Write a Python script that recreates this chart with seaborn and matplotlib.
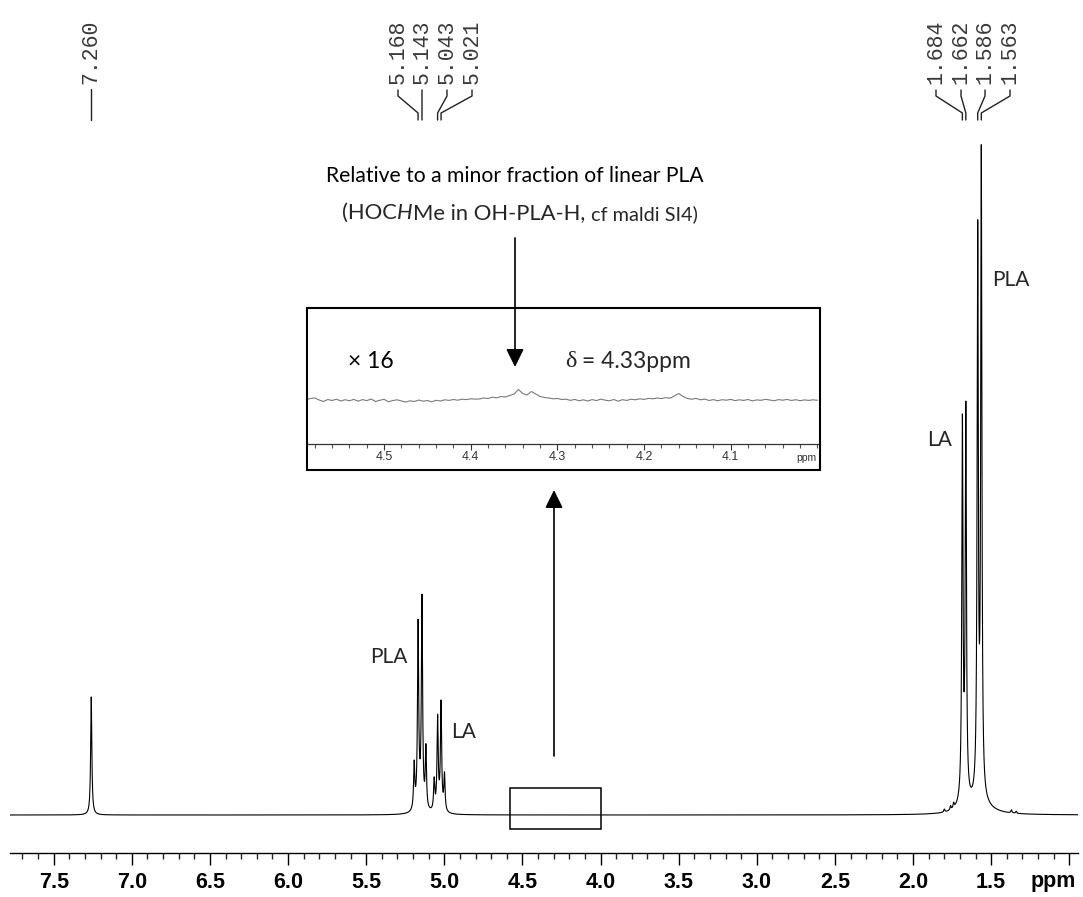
import numpy as np
import pandas as pd
import matplotlib
matplotlib.use("Agg")
import matplotlib.pyplot as plt
import seaborn as sns
from matplotlib.patches import Rectangle
from matplotlib import font_manager

# ---------------- data ----------------
# main 1H NMR spectrum: peak list (ppm, height in arbitrary units, half width at half max in ppm)
peak_ppm = [7.260, 5.193, 5.168, 5.143, 5.118, 5.065, 5.043, 5.021, 4.999,
            1.684, 1.662, 1.586, 1.563, 1.800, 1.760, 1.740, 1.370, 1.340]
peak_height = [118, 45, 180, 205, 60, 30, 90, 105, 36,
               373, 384, 559, 638, 3, 4, 5, 3, 2]
peak_hwhm = [0.0045, 0.0045, 0.0045, 0.0045, 0.0045, 0.0045, 0.0045, 0.0045, 0.0045,
             0.0045, 0.0045, 0.0045, 0.0045, 0.004, 0.004, 0.004, 0.004, 0.004]
# broad underlying components
broad_ppm = [5.155, 5.032, 1.575, 1.673]
broad_height = [10, 5, 10, 8]
broad_hwhm = [0.02, 0.02, 0.08, 0.03]

# chemical-shift labels at the top
shift_labels = ["7.260", "5.168", "5.143", "5.043", "5.021", "1.684", "1.662", "1.586", "1.563"]
shift_values = [7.260, 5.168, 5.143, 5.043, 5.021, 1.684, 1.662, 1.586, 1.563]

# main axis ticks
major_ticks = [7.5, 7.0, 6.5, 6.0, 5.5, 5.0, 4.5, 4.0, 3.5, 3.0, 2.5, 2.0, 1.5, 1.0]
major_labels = ["7.5", "7.0", "6.5", "6.0", "5.5", "5.0", "4.5", "4.0", "3.5",
                "3.0", "2.5", "2.0", "1.5", ""]

# x16 expansion (4.59 - 4.00 ppm), one value every 0.005 ppm
inset_start, inset_stop = 4.590, 4.000
inset_signal = [
    0.5, 1.5, 2.0, 0.0, -1.5, 0.5, -0.5, 0.8, -1.0, 0.3,
    -0.8, 0.6, -1.2, 0.4, -0.6, 1.0, -1.5, -0.3, 0.7, -1.8,
    -0.5, 0.2, -1.0, -2.0, -0.8, -1.5, 0.0, -1.2, -0.5, -1.8,
    -0.3, -1.0, 0.2, -0.4, 0.5, -0.2, 0.8, 0.4, 1.2, 0.9,
    1.0, 2.0, 1.5, 2.8, 2.2, 3.5, 3.0, 4.5, 6.0, 10.5,
    6.5, 5.0, 8.5, 6.0, 3.5, 2.5, 2.0, 1.2, 1.5, 0.5,
    0.8, -0.4, 0.6, -0.8, 0.2, -1.0, 0.4, -0.6, 0.9, -0.2,
    -0.8, 0.5, -1.2, 0.3, -0.4, 0.8, 0.2, 1.2, 0.6, 1.6,
    1.2, 2.0, 1.4, 2.4, 1.8, 4.0, 6.5, 3.5, 1.5, 0.8,
    1.6, 0.2, 0.9, -0.5, 0.4, -0.8, 0.3, -0.2, 0.6, -0.6,
    0.2, -0.4, 0.5, -0.9, 0.1, -0.3, 0.7, 0.0, -0.8, 0.4,
    -0.2, 0.6, -0.5, 0.3, -0.7, 0.1, -0.4, 0.2, -0.3,
]
inset_ticks = [4.5, 4.4, 4.3, 4.2, 4.1]
inset_tick_labels = ["4.5", "4.4", "4.3", "4.2", "4.1"]

# ---------------- build curves from the peak list ----------------
grid = np.linspace(7.78, 0.944, 60000)
spec = np.zeros_like(grid)
for c, h, g in zip(peak_ppm + broad_ppm, peak_height + broad_height, peak_hwhm + broad_hwhm):
    spec += h / (1.0 + ((grid - c) / g) ** 2)
main_df = pd.DataFrame({"ppm": grid, "intensity": spec})

inset_df = pd.DataFrame({"ppm": np.linspace(inset_start, inset_stop, len(inset_signal)),
                         "intensity": inset_signal})

# ---------------- style ----------------
sns.set_theme(style="white")
plt.rcParams["font.family"] = ["Lato", "DejaVu Sans"]
names = {f.name for f in font_manager.fontManager.ttflist}
if "Liberation Sans Narrow" in names:
    tick_family, tick_size, small_size = "Liberation Sans Narrow", 18, 10
else:
    tick_family, tick_size, small_size = "Liberation Sans", 15.5, 9

W, H = 1083, 897
fig = plt.figure(figsize=(W / 100, H / 100), dpi=100)
fig.patch.set_facecolor("white")

# ---------------- main spectrum ----------------
ax = fig.add_axes([10 / W, (H - 853) / H, 1068 / W, 753 / H])
ax.set_facecolor("none")
sns.lineplot(data=main_df, x="ppm", y="intensity", ax=ax, color="black",
             lw=0.8, estimator=None, sort=False)
ax.set_xlim(7.78, 0.944)
ax.set_ylim(-38, 715)
for s in ["top", "left", "right"]:
    ax.spines[s].set_visible(False)
ax.spines["bottom"].set_linewidth(1.0)
ax.spines["bottom"].set_color("black")
ax.set_xticks(major_ticks)
ax.set_xticklabels(major_labels, fontfamily=tick_family, fontweight="bold", fontsize=tick_size)
ax.set_xticks(np.round(np.arange(7.7, 0.95, -0.1), 1), minor=True)
ax.tick_params(axis="x", which="major", direction="out", length=8.6, width=1.0,
               pad=5, bottom=True, colors="black")
ax.tick_params(axis="x", which="minor", direction="out", length=4.3, width=1.0, bottom=True)
ax.set_yticks([])
ax.set_xlabel("")
ax.set_ylabel("")
# small box marking the expanded region
ax.add_patch(Rectangle((inset_stop, -14), inset_start - inset_stop - 0.01, 41,
                       fill=False, lw=1.1, edgecolor="black"))

# ---------------- inset (x16) ----------------
ax_in = fig.add_axes([307 / W, (H - 444) / H, 513 / W, 136 / H])
ax_in.set_facecolor("none")
sns.lineplot(data=inset_df, x="ppm", y="intensity", ax=ax_in, color="#7a7a7a",
             lw=0.8, estimator=None, sort=False)
ax_in.set_xlim(4.589, 3.997)
ax_in.set_ylim(-44, 92)
for s in ["top", "left", "right"]:
    ax_in.spines[s].set_visible(False)
ax_in.spines["bottom"].set_color("#333333")
ax_in.spines["bottom"].set_linewidth(0.9)
ax_in.set_xticks(inset_ticks)
ax_in.set_xticklabels(inset_tick_labels, fontfamily=tick_family, fontsize=small_size, color="#333333")
ax_in.set_xticks(np.round(np.arange(4.58, 4.0, -0.02), 2), minor=True)
ax_in.tick_params(axis="x", which="major", direction="out", length=4.0, width=0.8,
                  pad=1.0, bottom=True, colors="#333333")
ax_in.tick_params(axis="x", which="minor", direction="out", length=2.8, width=0.8,
                  bottom=True, colors="#555555")
ax_in.set_yticks([])
ax_in.set_xlabel("")
ax_in.set_ylabel("")

# ---------------- overlay in pixel coordinates (y downwards) ----------------
ov = fig.add_axes([0, 0, 1, 1])
ov.set_facecolor("none")
ov.set_xlim(0, W)
ov.set_ylim(H, 0)
ov.axis("off")

ov.add_patch(Rectangle((307, 308), 513, 162, fill=False, lw=1.5, edgecolor="black"))
ov.text(806, 458, "ppm", ha="center", va="center", fontfamily=tick_family,
        fontsize=small_size - 1.5, color="#333333")
ov.text(1053, 881, "ppm", ha="center", va="center", fontfamily=tick_family,
        fontweight="bold", fontsize=tick_size, color="black")

# chemical shift labels with connectors
text_x = [91, 398, 422, 447, 472, 936, 961, 985, 1010]
fig.canvas.draw()
for lab, val, tx in zip(shift_labels, shift_values, text_x):
    px = ax.transData.transform((val, 0))[0]
    ov.text(tx, 84, lab, rotation=90, ha="center", va="bottom",
            fontfamily="Liberation Mono", fontsize=15.5, color="#3a3a3a")
    if lab == "7.260":
        ov.plot([px, px], [89, 120], color="#222222", lw=1.0)
    else:
        ov.plot([tx, tx, px, px], [90, 96, 113, 120], color="#222222", lw=1.0)

# annotation text
ov.text(515, 176, "Relative to a minor fraction of linear PLA", ha="center", va="center",
        fontsize=15.2, color="black")


def chain(x, y, parts):
    first = ov.text(x, y, parts[0][0], ha="left", va="baseline", **parts[0][1])
    prev = first
    for s, kw in parts[1:]:
        prev = ov.annotate(s, xy=(1, 0), xycoords=prev, ha="left", va="bottom", **kw)
    return first, prev


line2_first, line2_last = chain(0, 219, [
    ("(HOC", dict(fontsize=15.8)),
    ("H", dict(fontsize=15.8, fontstyle="italic")),
    ("Me in OH-PLA-H, ", dict(fontsize=15.8)),
    ("cf maldi SI4)", dict(fontsize=14.3)),
])
fig.canvas.draw()
r = fig.canvas.get_renderer()
x0 = line2_first.get_window_extent(r).x0
x1 = line2_last.get_window_extent(r).x1
line2_first.set_x(520 - (x1 - x0) / 2)

ov.text(348, 361, "\u00d7 16", ha="left", va="center", fontsize=16.5, color="black")
chain(565, 367, [("\u03b4", dict(fontsize=17.5, fontfamily="Liberation Serif")),
                 (" = 4.33ppm", dict(fontsize=16.5))])

# peak assignments
ov.text(389, 657, "PLA", ha="center", va="center", fontsize=15)
ov.text(464, 732, "LA", ha="center", va="center", fontsize=15)
ov.text(1011, 280, "PLA", ha="center", va="center", fontsize=15)
ov.text(940, 440, "LA", ha="center", va="center", fontsize=15)

# arrows
arrow_kw = dict(arrowstyle="-|>,head_length=0.55,head_width=0.27", mutation_scale=20,
                lw=1.2, color="black", shrinkA=0, shrinkB=0)
ov.annotate("", xy=(515, 367), xytext=(515, 238), arrowprops=arrow_kw)
ov.annotate("", xy=(554, 490), xytext=(554, 756), arrowprops=arrow_kw)

fig.savefig("out.png", dpi=100, facecolor="white")
